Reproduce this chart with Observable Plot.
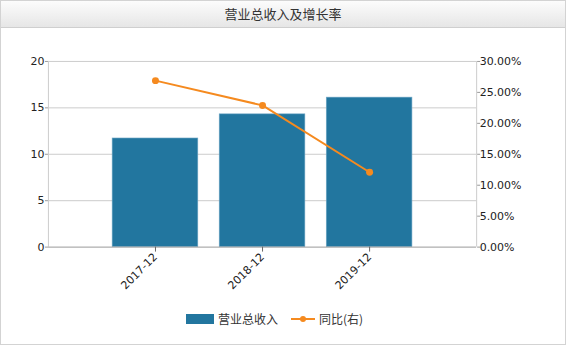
<!DOCTYPE html>
<html><head><meta charset="utf-8">
<script src="https://cdn.jsdelivr.net/npm/d3@7"></script>
<script src="https://cdn.jsdelivr.net/npm/@observablehq/plot@0.6"></script>
<style>
body{margin:0;background:#fff;}
#wrap{position:relative;width:566px;height:345px;box-sizing:border-box;border:1px solid #d3d3d3;overflow:hidden;font-family:"Noto Sans CJK SC","DejaVu Sans",sans-serif;}
#title{height:26px;line-height:26px;text-align:center;font-size:13px;color:#333;background:linear-gradient(#fcfcfc,#e6e6e6);border-bottom:1px solid #cfcfcf;}
#chart{position:absolute;left:-1px;top:27px;}
.lg{position:absolute;font-size:12px;color:#333;line-height:14px;}
</style></head>
<body>
<div id="wrap">
  <div id="title">营业总收入及增长率</div>
  <div id="chart"></div>
  <div class="lg" style="left:185px;top:313px;width:28px;height:10px;background:#22769f;"></div>
  <div class="lg" style="left:217px;top:311px;">营业总收入</div>
  <div class="lg" style="left:290px;top:317px;width:24px;height:2px;background:#f58a1f;"></div>
  <div class="lg" style="left:299px;top:315px;width:6px;height:6px;border-radius:3px;background:#f58a1f;"></div>
  <div class="lg" style="left:318px;top:311px;">同比(右)</div>
</div>
<script>
const periods = ["2017-12", "2018-12", "2019-12"];
const revenue = [11.7, 14.3, 16.1];
const growthPct = [26.9, 22.9, 12.1];
const leftTicks = [0, 5, 10, 15, 20];
const rightTicksPct = [0, 5, 10, 15, 20, 25, 30];

const data = periods.map((p, k) => ({i: k + 1, period: p, revenue: revenue[k], growth: growthPct[k] / 1.5}));
const fontStyle = {fontFamily: "DejaVu Sans, sans-serif", fontSize: 11};

const chart = Plot.plot({
  width: 566,
  height: 290,
  marginTop: 33,
  marginBottom: 71,
  marginLeft: 48,
  marginRight: 89,
  style: {...fontStyle, color: "#222", background: "transparent"},
  x: {domain: [0, 4], axis: null, label: null},
  y: {domain: [0, 20], axis: null, label: null},
  marks: [
    Plot.ruleY([5, 10, 15, 20], {x1: 0, x2: 4, stroke: "#cccccc"}),
    Plot.ruleX([0, 4], {y1: 0, y2: 20, stroke: "#cccccc"}),
    Plot.rectY(data, {x1: d => d.i - 0.4, x2: d => d.i + 0.4, y1: 0, y2: "revenue", fill: "#22769f", stroke: "#6ea6c4", strokeWidth: 0.6}),
    Plot.ruleY([0], {x1: 0, x2: 4, stroke: "#999999"}),
    Plot.line(data, {x: "i", y: "growth", stroke: "#f58a1f", strokeWidth: 2}),
    Plot.dot(data, {x: "i", y: "growth", fill: "#f58a1f", r: 3.5}),
    Plot.axisY(leftTicks, {anchor: "left", label: null, tickSize: 3, tickPadding: 1, stroke: "#999", fill: "#222", ...fontStyle}),
    Plot.axisY(rightTicksPct.map(p => p / 1.5), {anchor: "right", label: null, tickSize: 3, tickPadding: 0, stroke: "#999", fill: "#222", tickFormat: v => (v * 1.5).toFixed(2) + "%", ...fontStyle}),
    Plot.axisX([1, 2, 3], {label: null, tickSize: 5, tickPadding: 3, tickRotate: -45, stroke: "#666", fill: "#222", tickFormat: v => periods[v - 1], ...fontStyle})
  ]
});
document.getElementById("chart").appendChild(chart);
</script>
</body></html>
